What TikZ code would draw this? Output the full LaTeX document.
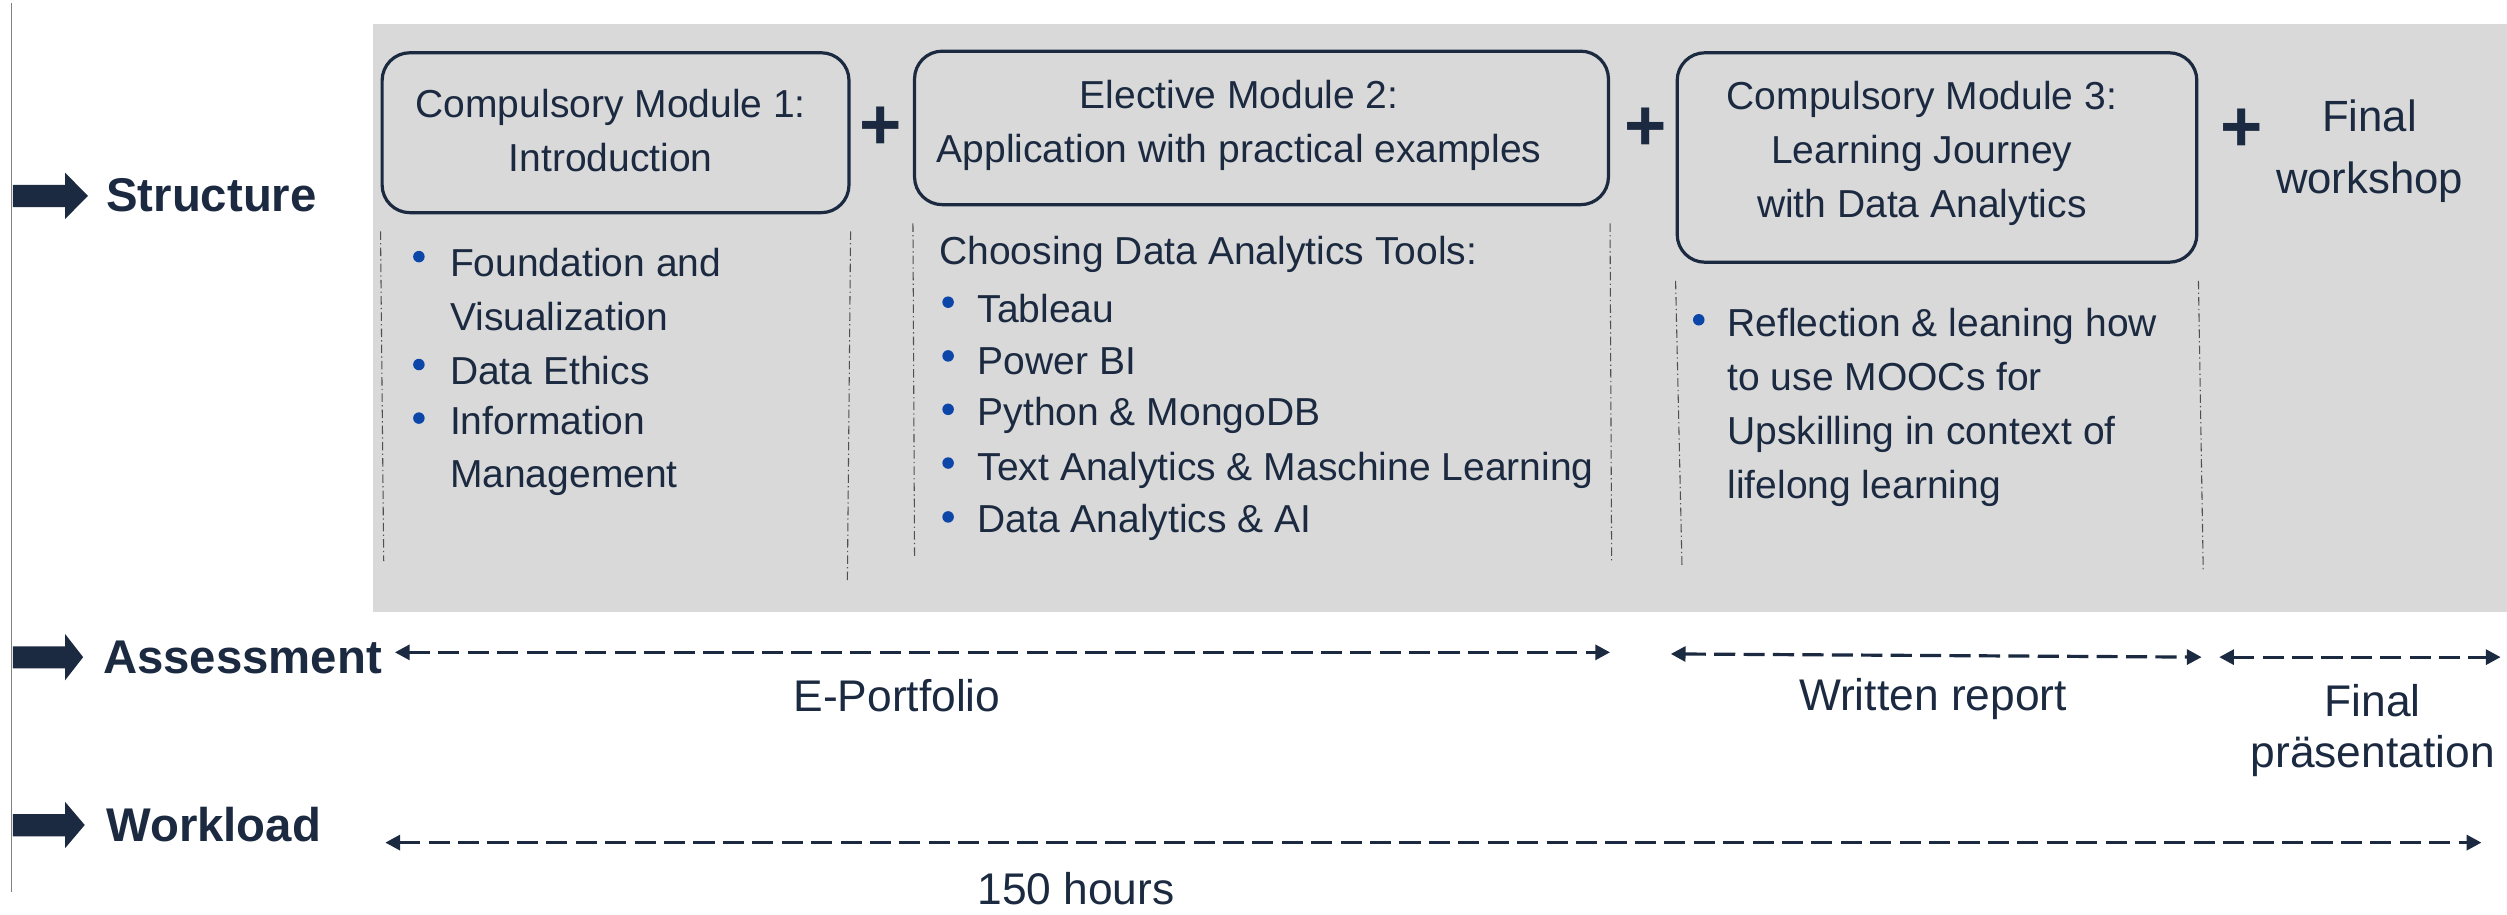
\documentclass[tikz,border=0pt]{standalone}
\usepackage{fontspec}
\setmainfont{Liberation Sans}
\usetikzlibrary{arrows.meta}
\definecolor{navy}{RGB}{27,42,64}
\definecolor{bulletblue}{RGB}{12,70,168}
\definecolor{panelgray}{RGB}{217,217,217}
\definecolor{guidegray}{RGB}{80,80,80}
\tikzset{every picture/.style={line width=0.75pt}}
\tikzset{
  modbox/.style={draw=navy, line width=1.5pt, rounded corners=13pt, inner sep=0pt},
  modtext/.style={inner sep=0.75pt, text=navy, align=center, font=\fontsize{18.3}{25.3}\selectfont},
  itemtext/.style={inner sep=0.75pt, text=navy, align=left, anchor=west, font=\fontsize{18.3}{25.3}\selectfont},
  rowlabel/.style={inner sep=0.75pt, text=navy, anchor=west, font=\fontsize{22.2}{27}\selectfont\bfseries},
  spantext/.style={inner sep=0.75pt, text=navy, align=center, font=\fontsize{20.8}{24}\selectfont},
  plussign/.style={inner sep=0pt, text=navy, font=\fontsize{34}{34}\selectfont\bfseries},
  guide/.style={draw=guidegray, line width=0.5pt, dash pattern=on 4pt off 1.5pt on 0.6pt off 1.5pt},
  span/.style={draw=navy, line width=1.5pt, dash pattern=on 9.9pt off 3.9pt, {Triangle[length=6.9pt,width=7pt]}-{Triangle[length=6.9pt,width=7pt]}},
}

\begin{document}
\begin{tikzpicture}[x=0.75pt,y=0.75pt,yscale=-1,xscale=1]
\useasboundingbox (0,0) rectangle (1568,572);

%Shape: Rectangle (panel)
\fill[panelgray] (233,15) rectangle (1568,383);
%Straight Lines (left rule)
\draw[gray, line width=0.6pt] (7,2) -- (7,558);

%Shape: Block arrows
\fill[navy] (8,115.7) -- (40.7,115.7) -- (40.7,108) -- (55,122.5) -- (40.7,137) -- (40.7,129.6) -- (8,129.6) -- cycle;
\fill[navy] (8,404.2) -- (40.7,404.2) -- (40.7,396.5) -- (52,411) -- (40.7,425.5) -- (40.7,418.1) -- (8,418.1) -- cycle;
\fill[navy] (8,509.2) -- (40.7,509.2) -- (40.7,501.5) -- (53,516) -- (40.7,530.5) -- (40.7,523.1) -- (8,523.1) -- cycle;

% Text Node
\node[rowlabel] (structure) at (65,122) {Structure};
% Text Node
\node[rowlabel] (assessment) at (63,411) {Assessment};
% Text Node
\node[rowlabel] (workload) at (65,516) {Workload};

%Shape: Rounded boxes
\node[modbox, minimum width=219pt, minimum height=75pt] (m1box) at (385,83) {};
\node[modbox, minimum width=325.5pt, minimum height=72pt] (m2box) at (789,80) {};
\node[modbox, minimum width=243.75pt, minimum height=98.25pt] (m3box) at (1211.5,98.5) {};

% Text Node
\node[modtext] (m1title) at (382,81.5) {Compulsory Module 1:\\Introduction};
% Text Node
\node[modtext] (m2title) at (775,78.5) {Elective Module 2:\\Application with practical examples};
% Text Node
\node[modtext] (m3title) at (1202,96) {Compulsory Module 3:\\Learning Journey\\with Data Analytics};

% Text Node
\node[plussign] (plus1) at (551,80) {+};
\node[plussign] (plus2) at (1029,81) {+};
\node[plussign] (plus3) at (1402,81.5) {+};
% Text Node
\node[modtext, font=\fontsize{20.5}{29}\selectfont] (workshop) at (1482,94.5) {Final\\workshop};

%Dotted guides
\coordinate (m1gl) at (240,351);
\coordinate (m1gr) at (530,363);
\coordinate (m2gl) at (572,348);
\coordinate (m2gr) at (1008,351);
\coordinate (m3gl) at (1052,354);
\coordinate (m3gr) at (1378,357);
\draw[guide] ([yshift=8pt]m1box.south west) -- (m1gl);
\draw[guide] ([yshift=8pt]m1box.south east) -- (m1gr);
\draw[guide] ([yshift=8pt]m2box.south west) -- (m2gl);
\draw[guide] ([yshift=8pt]m2box.south east) -- (m2gr);
\draw[guide] ([yshift=8pt]m3box.south west) -- (m3gl);
\draw[guide] ([yshift=8pt]m3box.south east) -- (m3gr);

%Bullets
\fill[bulletblue] (262,160.5) circle (2.7pt);
\fill[bulletblue] (262,228) circle (2.7pt);
\fill[bulletblue] (262,261.5) circle (2.7pt);
\fill[bulletblue] (593,189) circle (2.7pt);
\fill[bulletblue] (593,222.6) circle (2.7pt);
\fill[bulletblue] (593,256) circle (2.7pt);
\fill[bulletblue] (593,289.6) circle (2.7pt);
\fill[bulletblue] (593,323.3) circle (2.7pt);
\fill[bulletblue] (1062.5,200) circle (2.7pt);

% Text Node
\node[itemtext] (m1itemA) at (280,181) {Foundation and\\Visualization};
\node[itemtext] (m1itemB) at (280,232) {Data Ethics};
\node[itemtext] (m1itemC) at (280,282) {Information\\Management};
% Text Node
\node[itemtext] (m2head) at (586,159) {Choosing Data Analytics Tools:};
\node[itemtext] (m2itemA) at (610,193) {Tableau};
\node[itemtext] (m2itemB) at (610,226) {Power BI};
\node[itemtext] (m2itemC) at (610,260) {Python \& MongoDB};
\node[itemtext] (m2itemD) at (610,294) {Text Analytics \& Maschine Learning};
\node[itemtext] (m2itemE) at (610,327) {Data Analytics \& AI};
% Text Node
\node[itemtext] (m3itemA) at (1079,255) {Reflection \& leaning how\\to use MOOCs for\\Upskilling in context of\\lifelong learning};

%Dashed spans
\coordinate (ep-l) at (247,408);
\coordinate (ep-r) at (1007,408);
\coordinate (wr-l) at (1045,409);
\coordinate (wr-r) at (1377,411);
\coordinate (fp-l) at (1388,411);
\coordinate (fp-r) at (1564,411);
\coordinate (wl-l) at (241,527);
\coordinate (wl-r) at (1552,527);
\draw[span] (ep-l) -- (ep-r);
\draw[span] (wr-l) -- (wr-r);
\draw[span] (fp-l) -- (fp-r);
\draw[span] (wl-l) -- (wl-r);

% Text Node
\node[spantext] (eportfolio) at (561,435) {E-Portfolio};
\node[spantext] (report) at (1209,437) {Written report};
\node[spantext] (presentation) at (1484,457) {Final\\präsentation};
\node[spantext] (hours) at (673,556) {150 hours};

\end{tikzpicture}
\end{document}
